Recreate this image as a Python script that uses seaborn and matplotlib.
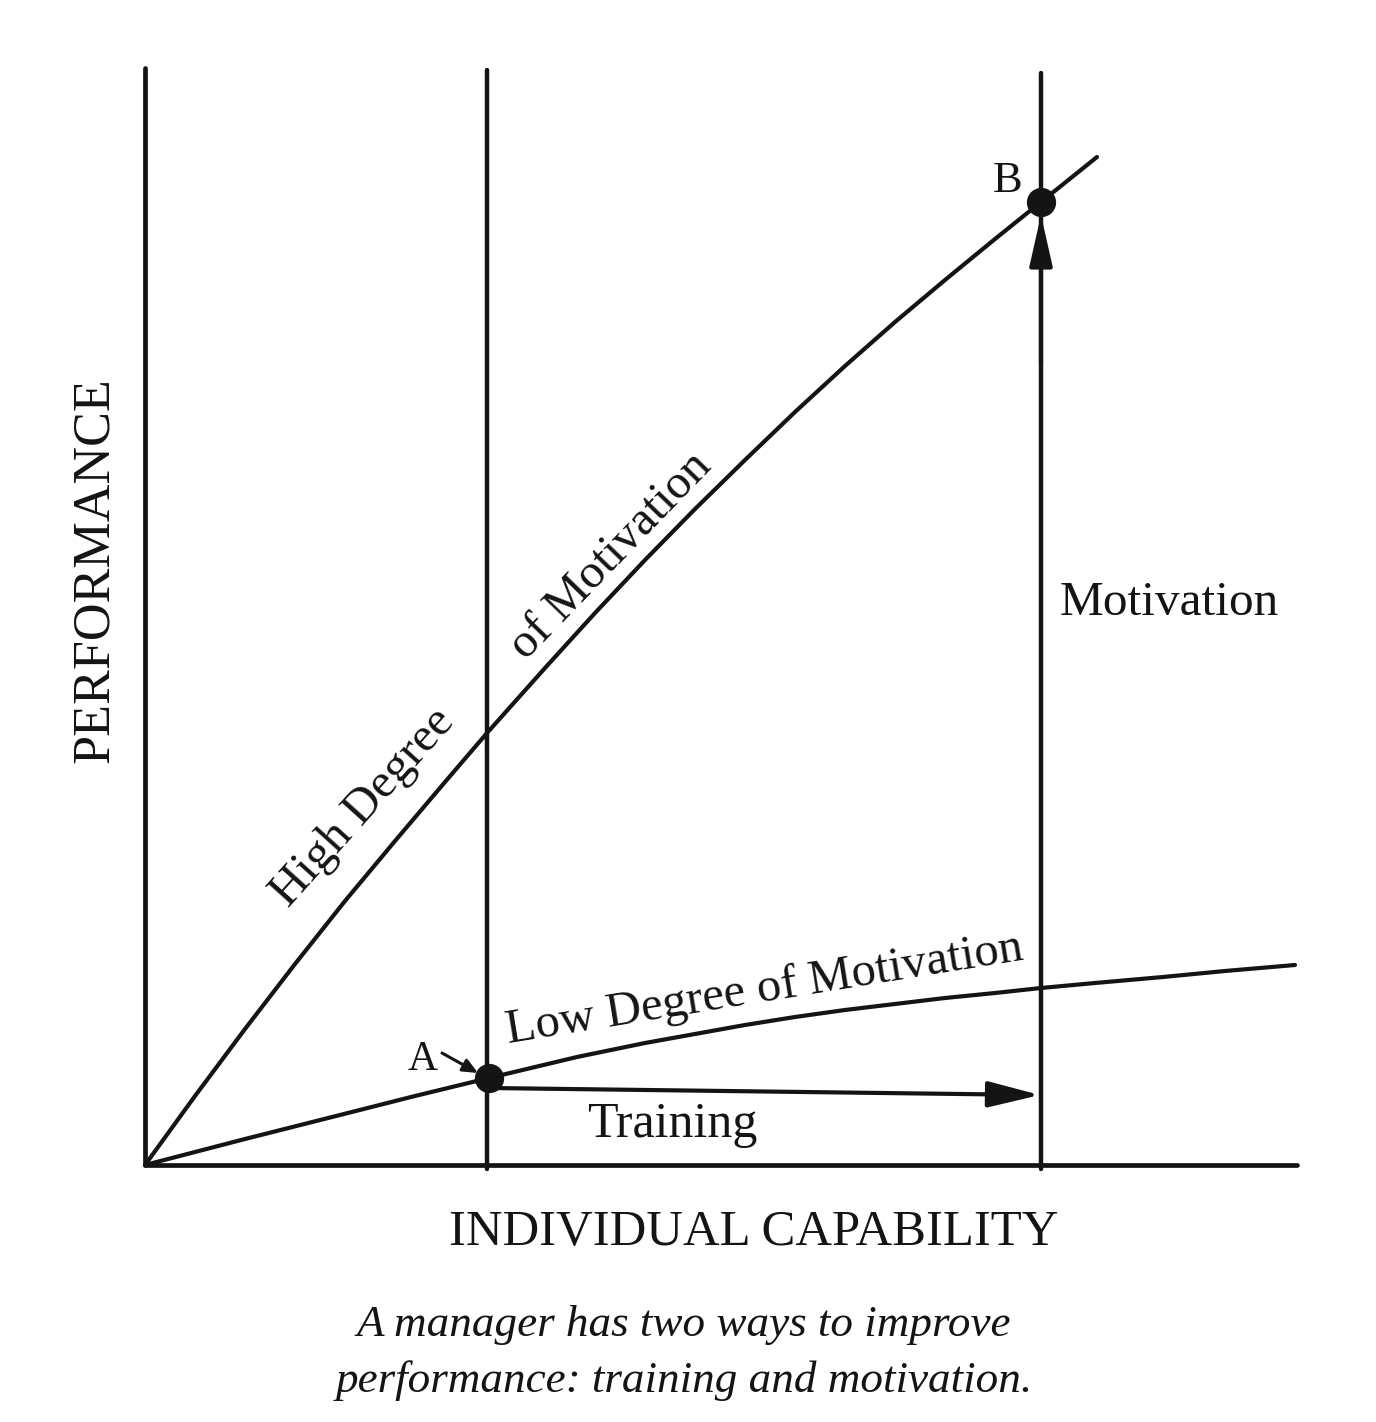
import pandas as pd
import seaborn as sns
import matplotlib.pyplot as plt

# values, 1 unit ~ 100 px, origin at the corner of the axes
high_cap = [0, 0.5, 1.0, 1.5, 2.0, 2.5, 3.0, 3.42, 4.0, 4.5, 5.0, 5.5, 6.0,
            6.5, 7.0, 7.5, 8.0, 8.5, 8.96, 9.52]
high_perf = [0, 0.69, 1.36, 2.01, 2.64, 3.24, 3.83, 4.32, 4.97, 5.52, 6.05,
             6.56, 7.05, 7.53, 7.99, 8.43, 8.85, 9.26, 9.63, 10.08]

low_cap = [0, 1.0, 1.95, 2.7, 3.44, 4.32, 5.0, 5.5, 6.0, 6.5, 7.0, 7.5, 8.0,
           8.5, 8.96, 9.5, 10.18, 10.8, 11.5]
low_perf = [0, 0.26, 0.50, 0.69, 0.87, 1.08, 1.22, 1.31, 1.40, 1.48, 1.55,
            1.61, 1.67, 1.72, 1.77, 1.82, 1.88, 1.94, 2.00]

# capability levels A and B (the two verticals) and the two marked points
level_x = [3.42, 8.96]
level_top = [10.95, 10.92]
point_names = ['A', 'B']
point_cap = [3.44, 8.96]
point_perf = [0.87, 9.63]

# extents of the drawn axes
x_axis_end = 11.52
y_axis_end = 10.97

# arrows: training (A -> level B), motivation (up to B)
training_from = (3.44, 0.77)
training_to = (8.95, 0.70)
motivation_from = (8.96, 8.0)
motivation_to = (8.96, 9.50)

caption = ["A manager has two ways to improve",
           "performance: training and motivation."]

sns.set_theme(style="white")
plt.rcParams['font.family'] = ['Liberation Serif', 'DejaVu Serif']
ink = '#141414'

fig = plt.figure(figsize=(13.76, 14.22), dpi=100)
ax = fig.add_axes([0, 0, 1, 1])
ax.set_xlim(-1.45, 12.31)
ax.set_ylim(-2.57, 11.65)
ax.axis('off')

# axes and verticals
ax.plot([0, x_axis_end], [0, 0], color=ink, lw=3.4, solid_capstyle='round')
ax.plot([0, 0], [0, y_axis_end], color=ink, lw=3.4, solid_capstyle='round')
for x, top in zip(level_x, level_top):
    ax.plot([x, x], [-0.04, top], color=ink, lw=3.2, solid_capstyle='round')

# motivation curves
high = pd.DataFrame({'cap': high_cap, 'perf': high_perf})
low = pd.DataFrame({'cap': low_cap, 'perf': low_perf})
sns.lineplot(data=high, x='cap', y='perf', ax=ax, color=ink, lw=3.0)
sns.lineplot(data=low, x='cap', y='perf', ax=ax, color=ink, lw=3.0)

# points A and B
pts = pd.DataFrame({'cap': point_cap, 'perf': point_perf, 'name': point_names})
sns.scatterplot(data=pts, x='cap', y='perf', ax=ax, color=ink, s=380,
                edgecolor=ink, zorder=5)

# arrows
ax.annotate('', xy=training_to, xytext=training_from,
            arrowprops=dict(arrowstyle='-|>,head_length=32,head_width=8',
                            mutation_scale=1, color=ink, lw=3.0,
                            shrinkA=0, shrinkB=0))
ax.annotate('', xy=motivation_to, xytext=motivation_from,
            arrowprops=dict(arrowstyle='-|>,head_length=31,head_width=7',
                            mutation_scale=1, color=ink, lw=3.0,
                            shrinkA=0, shrinkB=0))
ax.annotate('', xy=(3.33, 0.92), xytext=(2.97, 1.12),
            arrowprops=dict(arrowstyle='-|>,head_length=9,head_width=4',
                            mutation_scale=1, color=ink, lw=2.2,
                            shrinkA=0, shrinkB=0))

# labels
fs = 35
ax.text(2.78, 0.95, 'A', fontsize=30, color=ink, ha='center', va='baseline')
ax.text(8.63, 9.73, 'B', fontsize=32, color=ink, ha='center', va='baseline')
ax.text(9.15, 5.50, 'Motivation', fontsize=35.5, color=ink, ha='left', va='baseline')
ax.text(5.27, 0.28, 'Training', fontsize=36, color=ink, ha='center', va='baseline')
ax.text(2.27, 3.49, 'High Degree', fontsize=fs, color=ink, rotation=48,
        rotation_mode='anchor', ha='center', va='baseline')
ax.text(4.74, 6.01, 'of Motivation', fontsize=fs, color=ink, rotation=46,
        rotation_mode='anchor', ha='center', va='baseline')
ax.text(6.22, 1.64, 'Low Degree of Motivation', fontsize=fs, color=ink,
        rotation=9.2, rotation_mode='anchor', ha='center', va='baseline')

ax.text(6.09, -0.80, 'INDIVIDUAL CAPABILITY', fontsize=36.5, color=ink,
        ha='center', va='baseline')
ax.text(-0.37, 5.95, 'PERFORMANCE', fontsize=37.5, color=ink, rotation=90,
        rotation_mode='anchor', ha='center', va='baseline')

ax.text(5.39, -1.71, caption[0], fontsize=32.5, style='italic', color=ink,
        ha='center', va='baseline')
ax.text(5.39, -2.27, caption[1], fontsize=32.5, style='italic', color=ink,
        ha='center', va='baseline')

fig.savefig('out.png', dpi=100, facecolor='white')
